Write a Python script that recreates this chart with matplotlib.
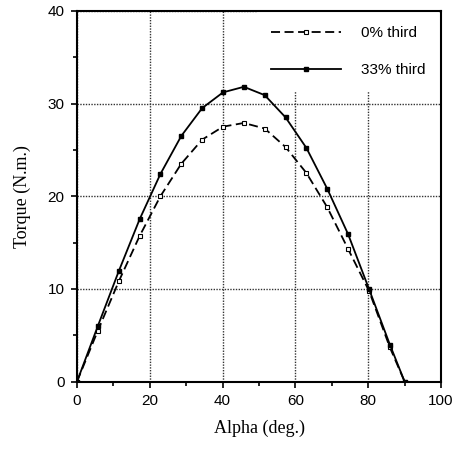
import numpy as np
import matplotlib
matplotlib.use("Agg")
import matplotlib.pyplot as plt
from matplotlib.ticker import MultipleLocator

# alpha steps (deg)
alpha = [0, 5.73, 11.46, 17.19, 22.92, 28.65, 34.38, 40.11, 45.84,
         51.57, 57.30, 63.03, 68.75, 74.48, 80.21, 85.94, 90.0]

# torque (N.m.) for each series
torque_0 = [0, 5.5, 10.8, 15.7, 20.0, 23.5, 26.1, 27.5, 27.9,
            27.3, 25.3, 22.5, 18.8, 14.3, 9.8, 3.7, 0]
torque_33 = [0, 6.0, 11.9, 17.5, 22.4, 26.5, 29.5, 31.2, 31.8,
             30.9, 28.5, 25.2, 20.8, 15.9, 10.0, 4.0, 0]

labels = ["0% third", "33% third"]

fig = plt.figure(figsize=(4.57, 4.5), dpi=100)
ax = fig.add_axes([0.1685, 0.152, 0.7965, 0.824])

ax.plot(alpha, torque_0, ls=(0, (5, 2.5)), color="black", lw=1.3,
        marker="s", ms=3.2, mfc="white", mec="black", mew=0.8,
        label=labels[0], zorder=3)
ax.plot(alpha, torque_33, ls="-", color="black", lw=1.3,
        marker="s", ms=3.5, mfc="black", mec="black",
        label=labels[1], zorder=3)

ax.set_xlim(0, 100)
ax.set_ylim(0, 40)
ax.xaxis.set_major_locator(MultipleLocator(20))
ax.xaxis.set_minor_locator(MultipleLocator(10))
ax.yaxis.set_major_locator(MultipleLocator(10))
ax.yaxis.set_minor_locator(MultipleLocator(5))

ax.grid(True, which="major", ls=(0, (1, 1)), color="#333333", lw=1.0, zorder=0)
ax.set_axisbelow(True)

for s in ax.spines.values():
    s.set_linewidth(1.5)

ax.tick_params(which="major", direction="out", length=4, width=1.2,
               labelsize=11, pad=5)
ax.tick_params(which="minor", direction="out", length=3, width=1.2)
for lab in ax.get_xticklabels() + ax.get_yticklabels():
    lab.set_fontfamily("Liberation Sans")

ax.set_xlabel("Alpha (deg.)", family="Liberation Serif", fontsize=13, labelpad=8)
ax.set_ylabel("Torque (N.m.)", family="Liberation Serif", fontsize=13, labelpad=12)

# legend with no frame line but a white fill over the grid
leg = ax.legend(loc="upper right", bbox_to_anchor=(1.0, 1.0), frameon=True,
                fancybox=False, framealpha=1, edgecolor="none",
                handlelength=4.6, handletextpad=1.3, labelspacing=1.5,
                borderpad=0.9, borderaxespad=0.1,
                prop={"family": "Liberation Sans", "size": 11})
leg.set_zorder(2)

fig.savefig("out.png", dpi=100)
